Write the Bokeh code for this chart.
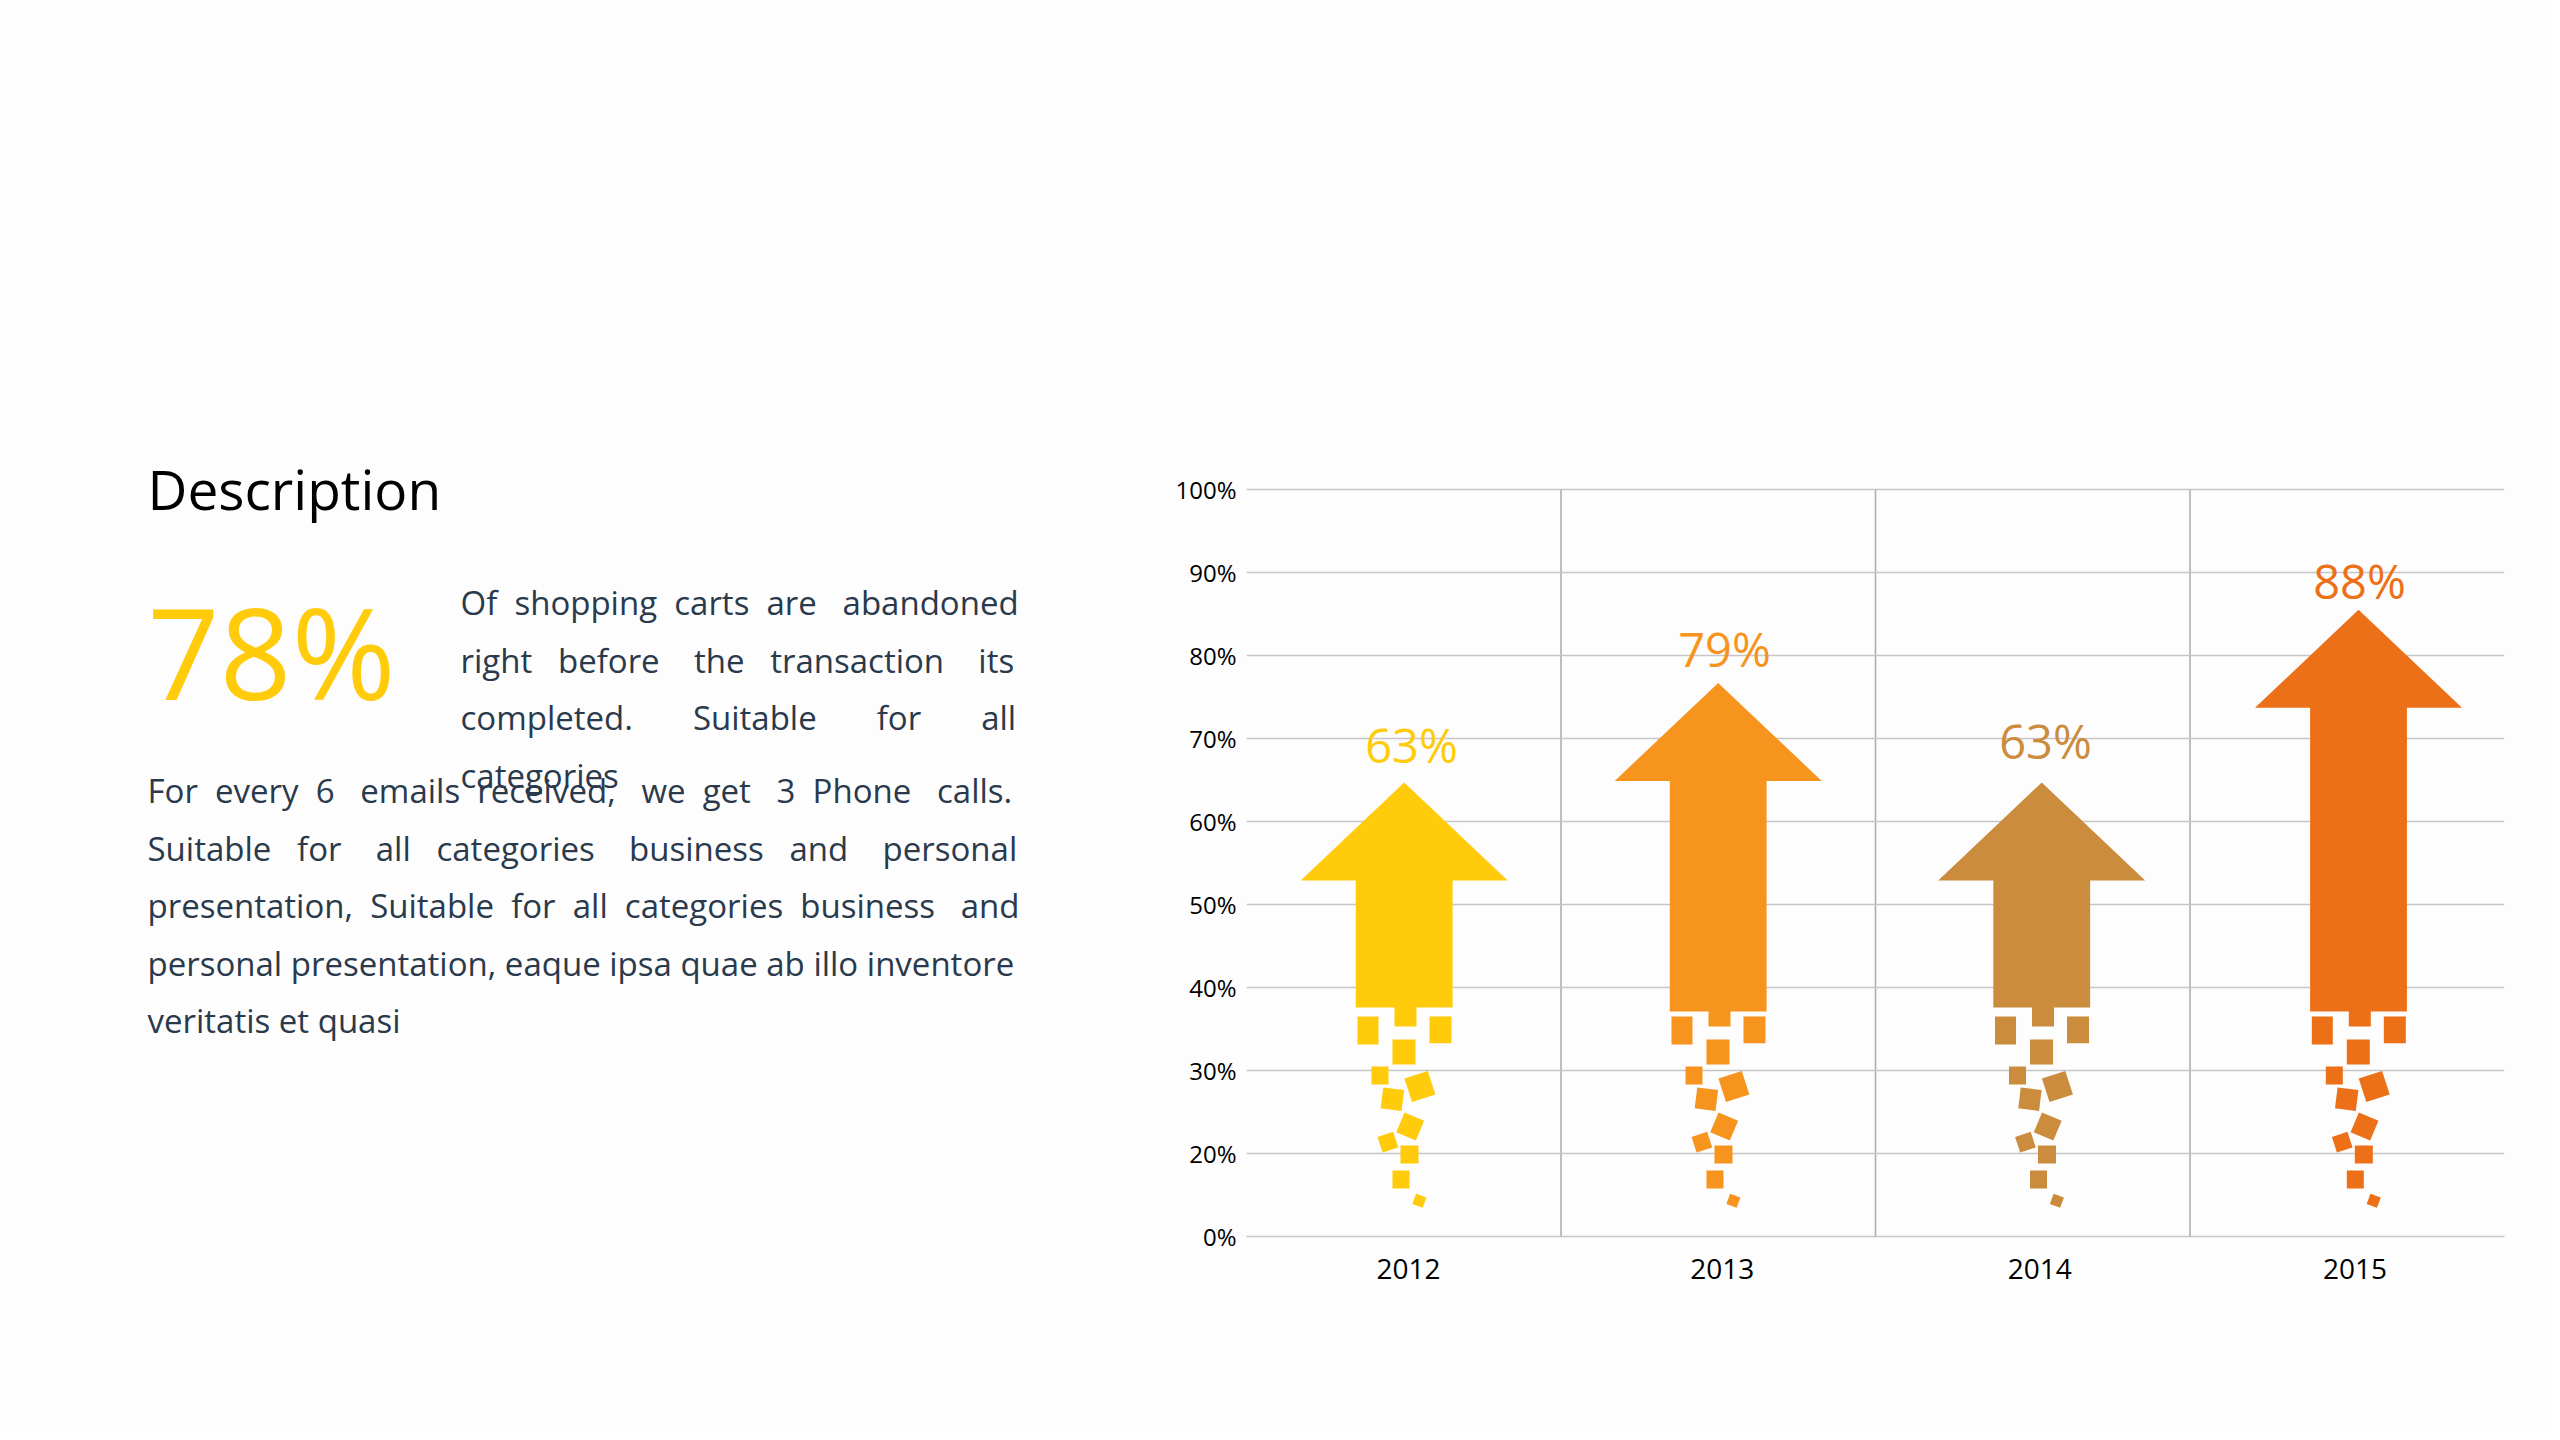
import math
from bokeh.plotting import figure
from bokeh.layouts import row
from bokeh.models import ColumnDataSource, FixedTicker, Range1d
from bokeh.embed import file_html
from bokeh.resources import INLINE

# ---- data ----
categories = ["2012", "2013", "2014", "2015"]
category_ticks = [0.515, 1.513, 2.522, 3.525]
column_edges = [1, 2, 3]
arrow_centers = [0.5014, 1.4998, 2.5285, 3.5358]
arrow_tips = [64.7, 76.7, 64.7, 85.5]
arrow_bases = [37.6, 37.1, 37.6, 37.1]
value_labels = ["63%", "79%", "63%", "88%"]
label_x = [0.5246, 1.52, 2.5405, 3.539]
label_y = [69.2, 80.8, 69.7, 89.0]
colors = ["#FFCB0A", "#F7941D", "#CB8C3E", "#EC7017"]
y_ticks = [10, 20, 30, 40, 50, 60, 70, 80, 90, 100]
y_tick_labels = ["0%", "20%", "30%", "40%", "50%", "60%", "70%", "80%", "90%", "100%"]
headline_value = "78%"
title_text = "Description"
# each line with the number of extra spaces that justify it
side_lines = [("Of shopping carts are abandoned", 5),
              ("right before the transaction its", 10),
              ("completed. Suitable for all", 18),
              ("categories", 0)]
body_lines = [("For every 6 emails received, we get 3 Phone calls.", 13),
              ("Suitable for all categories business and personal", 15),
              ("presentation, Suitable for all categories business and", 7),
              ("personal presentation, eaque ipsa quae ab illo inventore", 0),
              ("veritatis et quasi", 0)]

# ---- layout, in page pixels ----
PAGE_W, PAGE_H = 2552, 1432
MARGIN = 0
LEFT_W = 1100
FL, FR, FT, FB = 1246, 2504, 489, 1236
TOP_PAD = 6
PX_X = (FR - FL) / 4.0
PX_Y = (FB - FT) / 90.0
def sy(py): return 10 + (FB - py) / PX_Y

BG = "#FDFDFD"
FONT = "Open Sans"

# ---- left text panel: its scales are page pixels ----
left = figure(width=LEFT_W, height=PAGE_H, output_backend="svg", toolbar_location=None,
              x_range=Range1d(MARGIN, MARGIN + LEFT_W), y_range=Range1d(MARGIN + PAGE_H, MARGIN),
              min_border=0, background_fill_color=BG, border_fill_color=BG, outline_line_color=None,
              frame_align=False)
left.axis.visible = False
left.grid.visible = False

def put(text, px, py, size, color):
    left.text(x=[px], y=[py], text=[text], text_color=color, text_font_size=size,
              text_font={"value": FONT}, text_align="left", text_baseline="alphabetic")

def spaced(line, extra):
    words = line.split(" ")
    gaps = len(words) - 1
    out = words[0]
    for i in range(gaps):
        n = (extra * (i + 1)) // gaps - (extra * i) // gaps if gaps else 0
        out += " " + "\u00a0" * n + words[i + 1]
    return out

put(title_text, 147, 488, "55px", "#000000")
put(headline_value, 147, 650, "126px", colors[0])
TXT = "#2A3A4C"
for i, (line, n) in enumerate(side_lines):
    put(spaced(line, n), 460, 602 + i * 57.6, "33px", TXT)
for i, (line, n) in enumerate(body_lines):
    put(spaced(line, n), 147, 790 + i * 57.6, "33px", TXT)

# ---- chart ----
p = figure(width=PAGE_W - LEFT_W, height=PAGE_H, output_backend="svg", toolbar_location=None,
           x_range=Range1d(0, 4), y_range=Range1d(10, 100 + TOP_PAD / PX_Y),
           min_border_left=FL - MARGIN - LEFT_W, min_border_right=MARGIN + PAGE_W - FR,
           min_border_top=FT - MARGIN - TOP_PAD, min_border_bottom=MARGIN + PAGE_H - FB,
           background_fill_color=BG, border_fill_color=BG, outline_line_color=None,
           frame_align=False)

p.yaxis.ticker = FixedTicker(ticks=y_ticks)
p.yaxis.major_label_overrides = dict(zip(y_ticks, y_tick_labels))
p.xaxis.ticker = FixedTicker(ticks=category_ticks)
p.xaxis.major_label_overrides = dict(zip(category_ticks, categories))
for ax in (p.xaxis[0], p.yaxis[0]):
    ax.major_tick_line_color = None
    ax.minor_tick_line_color = None
    ax.major_label_text_color = "#000000"
    ax.major_label_text_font = FONT
p.yaxis.axis_line_color = None
GRID_H = "#C6C6C6"
p.xaxis.axis_line_color = GRID_H
p.xaxis.axis_line_width = 1.6
p.yaxis.major_label_text_font_size = "24px"
p.xaxis.major_label_text_font_size = "28px"
p.yaxis.major_label_standoff = 4
p.xaxis.major_label_standoff = 16

p.ygrid.ticker = FixedTicker(ticks=y_ticks[1:])
p.ygrid.grid_line_color = GRID_H
p.ygrid.grid_line_width = 1.6
p.xgrid.visible = False
p.segment(x0=column_edges, x1=column_edges, y0=[y_ticks[0]] * 3, y1=[y_ticks[-1]] * 3,
          line_color="#AEAEAE", line_width=1.6, level="underlay")

# arrow outline, in pixels
HEAD_HALF, HEAD_H, SHAFT_HALF = 103.5, 98, 48.4
xs, ys = [], []
for c, tip, base in zip(arrow_centers, arrow_tips, arrow_bases):
    hw, sw = HEAD_HALF / PX_X, SHAFT_HALF / PX_X
    neck = tip - HEAD_H / PX_Y
    xs.append([c, c + hw, c + sw, c + sw, c - sw, c - sw, c - hw])
    ys.append([tip, neck, neck, base, base, neck, neck])

# falling pieces below each arrow: dx, page y, w, h (pixels), angle (deg, ccw)
PIECES = [(1.3, 1013, 22, 26, 0), (-36.2, 1030, 21, 28, 0), (36.3, 1029.3, 22, 26.7, 0),
          (-0.2, 1051.5, 23, 25, 0), (-24.2, 1075, 17, 18, 0), (15.7, 1086, 24.6, 24.6, 18),
          (-11.8, 1098.7, 21, 21, -7), (6, 1126, 21.3, 21.3, -23), (-16.3, 1141.7, 16.4, 16.4, 18),
          (5.3, 1154, 18, 18, 0), (-3.2, 1179, 17, 18, 0), (15.2, 1200.3, 11, 11, -20)]
rx, ry, rw, rh, ra, rc = [], [], [], [], [], []
for c, col in zip(arrow_centers, colors):
    for dx, py, w, h, a in PIECES:
        rx.append(c + dx / PX_X); ry.append(sy(py)); rw.append(w); rh.append(h)
        ra.append(math.radians(a)); rc.append(col)
p.rect(x="x", y="y", width="w", height="h", angle="a", width_units="screen", height_units="screen",
       fill_color="c", line_color=None,
       source=ColumnDataSource(dict(x=rx, y=ry, w=rw, h=rh, a=ra, c=rc)))
p.patches(xs="xs", ys="ys", fill_color="c", line_color=None,
          source=ColumnDataSource(dict(xs=xs, ys=ys, c=colors)))

p.text(x="x", y="y", text="t", text_color="c", text_font_size="47px", text_font={"value": FONT},
       text_align="center", text_baseline="middle",
       source=ColumnDataSource(dict(x=label_x, y=label_y, t=value_labels, c=colors)))

layout = row(left, p)
open("out.html", "w").write(file_html(layout, INLINE))
